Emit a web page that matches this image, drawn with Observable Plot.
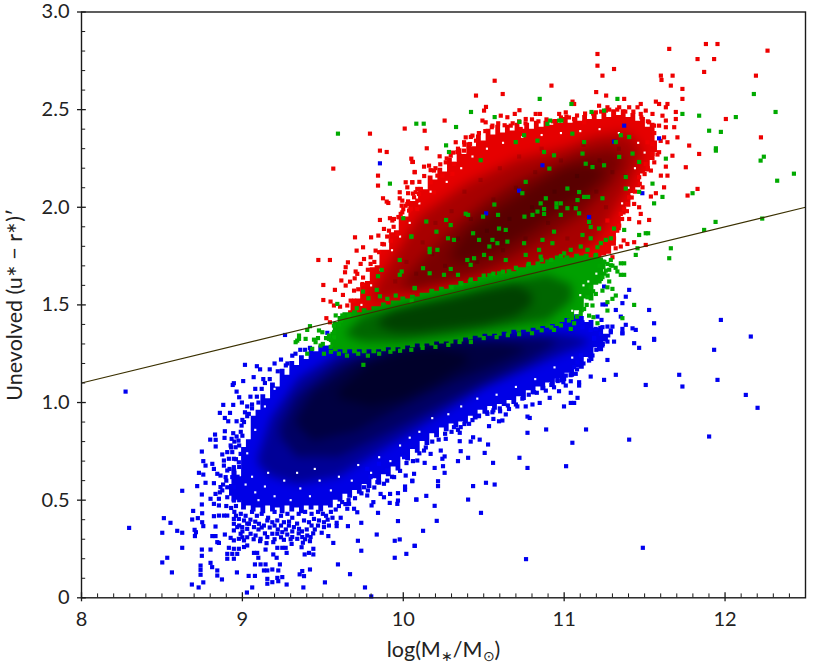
<!DOCTYPE html>
<html><head><meta charset="utf-8">
<script src="https://cdn.jsdelivr.net/npm/d3@7"></script>
<script src="https://cdn.jsdelivr.net/npm/@observablehq/plot@0.6"></script>
<style>html,body{margin:0;background:#fff}svg{display:block}</style>
</head><body><div id="chart"></div>
<script>
const xMajor=[8,9,10,11,12];
const yMajor=[0,0.5,1,1.5,2,2.5,3];
const xMinor=d3.range(80,126).map(d=>d/10).filter(d=>!xMajor.includes(d));
const yMinor=d3.range(0,31).map(d=>d/10).filter(d=>!yMajor.includes(d));
const divider=[[8,1.1],[12.5,2.0]];

// dense mass of each cloud, read column by column: [x, upper edge, lower edge]
const blueBand=[[8.92,.58,.52],[8.95,.66,.49],[8.98,.62,.50],[9.01,.77,.45],[9.04,.81,.47],[9.07,.93,.44],[9.10,.96,.46],[9.13,1.04,.43],[9.16,1.02,.47],[9.19,1.10,.44],[9.22,1.08,.46],[9.25,1.17,.43],[9.28,1.14,.47],[9.31,1.21,.44],[9.34,1.19,.46],[9.37,1.24,.43],[9.40,1.22,.47],[9.43,1.27,.45],[9.46,1.26,.47],[9.49,1.29,.44],[9.52,1.29,.47],[9.55,1.29,.46],[9.58,1.29,.50],[9.61,1.29,.49],[9.64,1.29,.53],[9.67,1.29,.51],[9.70,1.29,.55],[9.73,1.29,.53],[9.76,1.29,.58],[9.79,1.29,.56],[9.82,1.29,.61],[9.85,1.29,.59],[9.88,1.3,.63],[9.91,1.3,.62],[9.94,1.3,.67],[9.97,1.3,.65],[10.0,1.3,.72],[10.03,1.3,.70],[10.06,1.31,.76],[10.09,1.31,.74],[10.12,1.31,.80],[10.15,1.31,.78],[10.18,1.32,.84],[10.21,1.32,.82],[10.24,1.32,.87],[10.27,1.33,.85],[10.30,1.33,.89],[10.33,1.33,.87],[10.36,1.34,.90],[10.39,1.34,.89],[10.42,1.35,.93],[10.45,1.35,.91],[10.48,1.36,.96],[10.51,1.36,.94],[10.54,1.36,.98],[10.57,1.37,.96],[10.60,1.37,.99],[10.63,1.37,.98],[10.66,1.38,1.01],[10.69,1.38,.99],[10.72,1.39,1.03],[10.75,1.39,1.01],[10.78,1.40,1.06],[10.81,1.40,1.04],[10.84,1.40,1.08],[10.87,1.41,1.06],[10.90,1.41,1.10],[10.93,1.42,1.08],[10.96,1.42,1.12],[10.99,1.43,1.10],[11.02,1.43,1.15],[11.05,1.44,1.13],[11.08,1.45,1.18],[11.11,1.44,1.17],[11.14,1.41,1.23],[11.17,1.42,1.21],[11.20,1.38,1.28],[11.23,1.39,1.26],[11.26,1.35,1.31],[11.29,1.35,1.33]];
const redBand=[[9.66,1.47,1.43],[9.69,1.52,1.43],[9.72,1.53,1.44],[9.75,1.61,1.44],[9.78,1.62,1.45],[9.81,1.69,1.46],[9.84,1.70,1.46],[9.87,1.78,1.47],[9.90,1.78,1.47],[9.93,1.87,1.48],[9.96,1.88,1.49],[9.99,1.95,1.49],[10.02,1.95,1.5],[10.05,2.03,1.51],[10.08,2.03,1.51],[10.11,2.10,1.52],[10.14,2.09,1.52],[10.17,2.16,1.53],[10.20,2.14,1.54],[10.23,2.2,1.54],[10.26,2.18,1.55],[10.29,2.25,1.55],[10.32,2.23,1.56],[10.35,2.30,1.57],[10.38,2.27,1.57],[10.41,2.33,1.58],[10.44,2.31,1.58],[10.47,2.37,1.59],[10.50,2.34,1.6],[10.53,2.4,1.6],[10.56,2.37,1.61],[10.59,2.42,1.61],[10.62,2.38,1.62],[10.65,2.42,1.63],[10.68,2.39,1.63],[10.71,2.43,1.64],[10.74,2.4,1.64],[10.77,2.43,1.65],[10.80,2.4,1.66],[10.83,2.44,1.66],[10.86,2.41,1.67],[10.89,2.44,1.67],[10.92,2.42,1.68],[10.95,2.45,1.69],[10.98,2.43,1.69],[11.01,2.46,1.7],[11.04,2.43,1.7],[11.07,2.46,1.71],[11.10,2.44,1.72],[11.13,2.47,1.72],[11.16,2.45,1.73],[11.19,2.48,1.73],[11.22,2.45,1.74],[11.25,2.49,1.75],[11.28,2.46,1.76],[11.31,2.5,1.8],[11.34,2.47,1.88],[11.37,2.5,1.96],[11.40,2.46,2.0],[11.43,2.48,2.07],[11.46,2.44,2.1],[11.49,2.46,2.17],[11.52,2.41,2.18],[11.55,2.43,2.24],[11.58,2.34,2.28]];
const greenBand=[[9.55,1.36,1.28],[9.58,1.41,1.26],[9.61,1.44,1.27],[9.64,1.46,1.25],[9.67,1.46,1.27],[9.70,1.47,1.25],[9.73,1.46,1.27],[9.76,1.48,1.25],[9.79,1.47,1.27],[9.82,1.49,1.25],[9.85,1.49,1.27],[9.88,1.51,1.26],[9.91,1.5,1.28],[9.94,1.52,1.26],[9.97,1.52,1.28],[10.0,1.54,1.27],[10.03,1.53,1.29],[10.06,1.55,1.28],[10.09,1.54,1.3],[10.12,1.56,1.28],[10.15,1.56,1.3],[10.18,1.58,1.29],[10.21,1.57,1.31],[10.24,1.59,1.3],[10.27,1.58,1.31],[10.30,1.6,1.3],[10.33,1.6,1.32],[10.36,1.62,1.31],[10.39,1.61,1.33],[10.42,1.63,1.32],[10.45,1.62,1.34],[10.48,1.64,1.33],[10.51,1.64,1.35],[10.54,1.66,1.34],[10.57,1.65,1.35],[10.60,1.67,1.34],[10.63,1.66,1.36],[10.66,1.68,1.35],[10.69,1.67,1.37],[10.72,1.69,1.36],[10.75,1.69,1.37],[10.78,1.71,1.36],[10.81,1.70,1.38],[10.84,1.72,1.37],[10.87,1.71,1.39],[10.90,1.73,1.38],[10.93,1.73,1.4],[10.96,1.75,1.39],[10.99,1.74,1.41],[11.02,1.75,1.43],[11.05,1.74,1.42],[11.08,1.76,1.47],[11.11,1.75,1.46],[11.14,1.76,1.53],[11.17,1.74,1.52],[11.20,1.76,1.6],[11.23,1.74,1.62],[11.26,1.73,1.68]];

// darker centres of the clouds: [x, upper, lower]
const blueCore=[
 [[9.1,.72,.68],[9.18,.92,.62],[9.35,1.12,.58],[9.6,1.25,.62],[10,1.3,.82],[10.5,1.35,1.07],[11,1.35,1.25],[11.15,1.32,1.3]],
 [[9.24,.88,.82],[9.34,1.03,.72],[9.6,1.2,.72],[9.9,1.28,.84],[10.2,1.32,.97],[10.5,1.33,1.1],[10.8,1.33,1.22],[10.95,1.32,1.3]],
 [[9.34,.92,.88],[9.44,1.05,.8],[9.7,1.2,.85],[10,1.27,.98],[10.3,1.3,1.1],[10.6,1.3,1.2],[10.75,1.28,1.26]],
 [[9.6,1.06,1.02],[9.8,1.2,.98],[10,1.26,1.02],[10.2,1.28,1.1],[10.4,1.24,1.2]]
];
const redCore=[
 [[9.8,1.52,1.5],[9.85,1.62,1.52],[10.1,1.95,1.56],[10.4,2.12,1.61],[10.7,2.24,1.67],[11,2.3,1.73],[11.2,2.36,1.82],[11.4,2.38,2.1],[11.48,2.3,2.26]],
 [[10.0,1.62,1.58],[10.1,1.72,1.58],[10.3,1.88,1.62],[10.5,2.02,1.67],[10.7,2.13,1.75],[10.9,2.2,1.85],[11.1,2.27,1.95],[11.3,2.3,2.12],[11.37,2.26,2.22]],
 [[10.3,1.76,1.72],[10.4,1.88,1.72],[10.6,2.0,1.78],[10.8,2.1,1.88],[11,2.2,2.0],[11.15,2.22,2.08],[11.25,2.2,2.16]]
];
const greenCore=[
 [[9.65,1.36,1.34],[9.75,1.44,1.31],[10,1.49,1.31],[10.3,1.55,1.34],[10.6,1.61,1.38],[10.9,1.65,1.42],[11.05,1.6,1.52]],
 [[9.85,1.42,1.39],[9.95,1.47,1.36],[10.1,1.5,1.36],[10.3,1.53,1.38],[10.5,1.57,1.4],[10.7,1.6,1.44],[10.8,1.56,1.5]]
];

const bluePts=[[8.274,1.056],[8.296,.358],[8.512,.408],[8.553,.384],[8.502,.333],[8.595,.343],[8.626,.333],[8.626,.256],[8.533,.205],[8.502,.181],[8.562,.13],[8.626,.548],[8.688,.401],[8.694,.445],[8.703,.348],[8.711,.336],[8.705,.316],[8.723,.408],[8.75,.433],[8.75,.387],[8.757,.367],[8.748,.478],[8.748,.529],[8.719,.572],[8.771,.589],[8.73,.64],[8.757,.631],[8.771,.677],[8.757,.70],[8.748,.749],[8.748,.247],[8.748,.215],[8.802,.247],[8.74,.165],[8.74,.143],[8.74,.118],[8.802,.179],[8.812,.157],[8.844,.14],[8.844,.114],[8.873,.094],[8.686,.068],[8.728,.053],[8.757,.079],[8.966,.13],[9.039,.112],[9.078,.112],[9.061,.053],[9.028,.027],[9.379,.053],[9.513,.079],[9.594,.171],[9.669,.121],[9.762,.053],[9.801,.007],[9.739,.241],[9.718,.292],[9.835,.324],[9.739,.384],[9.656,.367],[9.967,.393],[9.947,.292],[9.978,.299],[9.947,.205],[10.019,.225],[10.071,.266],[9.843,.435],[10.081,.503],
[9.016,1.193],[9.09,1.186],[9.005,1.11],[8.947,1.099],[8.94,1.09],[8.964,1.056],[8.98,1.027],[8.881,.988],[8.943,.988],[8.997,1.0],[8.86,.947],[8.923,.947],[8.891,.921],[8.912,.904],[8.964,.904],[9.0,.911],[9.016,.95],[9.04,.942],[8.995,.882],[8.891,.853],[8.943,.843],[8.964,.826],[8.83,.836],[8.80,.81],[8.834,.809],[8.889,.819],[8.933,.814],[8.976,.805],[8.834,.775],[8.927,.78],[8.958,.771],[8.906,.746],[8.875,.734],[8.937,.746],[8.989,.737],[8.885,.703],[8.916,.712],[8.947,.712],[8.978,.694],[8.813,.686],[8.823,.66],[8.844,.635],[8.885,.677],[8.864,.626],[8.906,.652],[8.947,.669],[8.896,.618],[8.937,.618],[8.823,.587],[8.864,.567],[8.833,.532],[8.802,.507],[8.854,.507],[8.823,.481],[8.854,.473],[8.875,.55],[8.906,.566],[8.947,.566],[8.906,.515],[8.947,.498],[8.854,.421],[8.885,.421],[8.906,.421],
[9.07,1.13],[9.11,1.17],[9.13,1.12],[9.17,1.17],[9.2,1.2],[9.24,1.22],[9.27,1.19],[9.31,1.24],[9.36,1.27],[9.05,1.03],[9.08,1.07],[9.1,1.0],[9.03,.98],[9.06,.97],
[8.947,.404],[8.978,.404],[9.01,.396],[9.041,.379],[8.947,.379],[8.968,.362],[8.999,.362],[9.03,.353],[9.072,.362],[9.103,.379],[9.134,.37],[9.155,.396],[9.186,.387],[9.217,.396],[9.258,.387],[9.289,.37],[9.32,.362],[9.352,.353],[9.383,.396],[9.414,.387],[9.445,.404],[9.476,.396],[9.507,.387],[9.538,.37],[9.493,.333],[9.534,.316],[9.565,.281],[9.58,.452],[9.611,.41],[9.586,.384],[9.586,.367],[9.507,.362],
[8.95,.44],[8.99,.43],[9.02,.42],[9.06,.44],[9.09,.42],[9.12,.43],[9.16,.41],[9.2,.44],[9.24,.42],[9.28,.43],[9.31,.41],[9.35,.43],[9.39,.44],[9.43,.43],[9.47,.44],[9.52,.42],[9.55,.44],[9.6,.47],[9.64,.48],
[8.891,.324],[8.927,.307],[8.947,.294],[8.978,.302],[9.01,.294],[9.051,.328],[9.082,.319],[9.113,.302],[9.155,.311],[9.186,.328],[9.217,.328],[9.248,.336],[9.279,.324],[9.31,.311],[9.341,.302],[9.372,.311],[9.403,.319],[9.424,.311],[8.947,.345],[8.989,.328],[8.813,.316],[8.833,.316],[8.844,.285],[8.833,.365],[8.823,.418],[8.854,.281],[9.306,.276],[9.368,.259],[9.258,.297],[9.192,.285],
[8.916,.256],[8.947,.251],[8.978,.251],[9.01,.26],[9.03,.268],[8.906,.225],[8.937,.225],[8.968,.225],[8.906,.2],[8.947,.2],[9.072,.23],[9.092,.23],[9.099,.205],[9.144,.247],[9.192,.222],[9.217,.256],[9.248,.256],[9.269,.256],[9.213,.205],[9.275,.23],[9.387,.222],[9.414,.23],[9.441,.251],[9.441,.222],[9.376,.282],
[9.078,.171],[9.113,.171],[9.144,.171],[9.134,.14],[9.155,.14],[9.186,.145],[9.233,.171],[9.223,.14],[9.155,.097],[9.155,.072],[9.186,.08],[9.217,.102],[9.248,.106],[9.223,.085],[9.275,.068],[9.356,.12],[9.372,.137],[9.383,.111],[9.42,.145],
[9.663,.481],[9.694,.456],[9.714,.438],[9.652,.456],[9.776,.524],[9.814,.49],[9.803,.473],[9.859,.532],[9.88,.515],[9.918,.532],[9.916,.486],[9.963,.481],[9.967,.536],[9.967,.498],[10.011,.57],[10.011,.553],[10.056,.6],[10.015,.626],[9.943,.618],[9.88,.584],[9.839,.592],[9.797,.618],[9.756,.566],[9.901,.652],[9.849,.686],[9.776,.66],[9.963,.686],[10.005,.72],
[12.16,1.338],[11.932,1.27],[11.559,1.321],[11.466,1.28],[11.435,1.304],[11.362,1.355],[11.715,1.142],[11.953,1.116],[11.735,1.082],[11.507,1.09],[11.321,1.142],[11.248,1.116],[11.165,1.133],[11.269,1.218],[12.129,1.039],[12.202,.973],[11.901,.826],[11.404,.81],[11.136,.862],[11.051,.794],[10.888,.862],[10.772,.845],[10.772,.928],[10.786,.921],[10.999,.98],[11.041,.998],[11.062,.998],[11.083,1.024],[11.041,1.05],[11.093,1.087],[11.093,1.104],[11.01,1.087],[10.995,1.104],[11.041,1.109],[10.958,1.116],[10.968,1.058],[10.91,1.024],[10.848,.998],[10.803,.99],[10.761,.98],[10.709,.98],[10.657,.967],[10.637,.939],[10.616,.908],[10.595,.904],[10.56,.916],[10.554,.95],[10.602,.955],[10.533,.879],[10.475,.81],[10.527,.785],[10.434,.822],[10.419,.80],[10.506,.742],[10.558,.691],[10.403,.717],[10.34,.70],[10.357,.751],[10.722,.717],[10.772,.665],[11.012,.674],[10.568,.58],[10.514,.589],[10.434,.572],[10.403,.503],[10.483,.435],[10.257,.64],[10.247,.674],[10.195,.665],[10.257,.724],[10.133,.691],[10.216,.597],[10.216,.572],[10.143,.522],[10.081,.503],[10.195,.471],[10.208,.394],[10.123,.343],[10.071,.266],[10.763,.198],[11.489,.256],[10.351,.802],[10.351,.845],[10.264,.814],[10.067,.635],[10.056,.597],[10.129,.754],[10.17,.737],[10.233,.754],[10.243,.712],[10.087,.703],[10.315,.874],[10.357,.874],[10.409,.891],[10.471,.933],[10.523,.942],
[11.155,1.215],[11.176,1.241],[11.217,1.275],[11.238,1.292],[11.269,1.312],[11.31,1.312],[11.186,1.326],[11.228,1.352],[11.29,1.36],[11.083,1.206],[11.104,1.241],[11.062,1.181],[11.072,1.147],[11.01,1.138],[10.937,1.078],[10.886,1.061],[10.813,1.053],
[11.404,1.577],[11.383,1.542],[11.362,1.509],[11.321,1.474],[11.528,1.474],[11.352,1.44],[11.232,1.423],[11.207,1.44],[11.559,1.406],[11.383,1.398],[11.974,1.423],[11.425,1.38],[11.445,1.372],[11.362,1.377],[11.362,1.355],[11.238,1.502],[11.259,1.502],[11.248,1.594],[11.3,1.389],[11.269,1.389],[11.238,1.386],[11.196,1.377],[11.165,1.372],[11.114,1.411],[11.114,1.386],[11.29,1.369],[11.186,1.331],[11.559,1.326],
[9.265,1.346],[9.528,1.357]];
const blueEdge=[[9.62,.49],[9.66,.5],[9.7,.51],[9.74,.535],[9.78,.55],[9.82,.565],[9.85,.59],[9.9,.6],[9.93,.62],[9.98,.65],[10.02,.69],[10.06,.7],[10.1,.74],[10.14,.77],[10.18,.8],[10.22,.81],[10.26,.84],[10.3,.85],[10.34,.86],[10.38,.89],[10.43,.91],[10.47,.93],[10.52,.95],[10.56,.96],[10.6,.97],[10.65,.985],[10.7,.99],[10.74,1.02],[10.78,1.04],[10.83,1.05],[10.87,1.075],[10.92,1.09],[10.96,1.11],[11.0,1.12],[11.04,1.14],[11.08,1.17],[11.12,1.2],[11.16,1.24],[11.2,1.27],[11.24,1.3],
[8.96,.42],[8.98,.37],[9.0,.34],[9.03,.38],[9.05,.4],[9.08,.39],[9.1,.35],[9.12,.36],[9.14,.33],[9.17,.36],[9.2,.37],[9.22,.35],[9.24,.37],[9.27,.35],[9.29,.39],[9.31,.34],[9.34,.38],[9.37,.34],[9.4,.35],[9.43,.37],[9.45,.35],[9.47,.37],[9.5,.43],[9.53,.4],[9.56,.41],[9.0,.31],[9.03,.31],[9.07,.3],[9.11,.29],[9.15,.28],[9.2,.3],[9.24,.31],[9.3,.3],[9.35,.33],[9.39,.3],[9.42,.29],[9.44,.33],
[8.92,.66],[8.95,.64],[8.97,.62],[8.93,.56],[8.96,.52],[8.98,.5],[8.9,.6],[8.88,.58],[8.86,.54],[8.9,.47],[8.93,.46],[8.96,.47],[8.98,.67],[8.96,.71],[8.93,.77],[8.95,.8],[8.98,.78],[9.0,.83],[8.99,.85],[9.01,.9],[9.03,.93],[9.06,.99],[9.09,1.03],[9.12,1.07],[9.14,1.1],[9.17,1.12],[9.22,1.16],[9.28,1.2],[9.33,1.25],[9.39,1.27],[9.42,1.28]];
const blueGaps=[[9.1,.5],[9.14,.57],[9.06,.62],[9.2,.52],[9.26,.6],[9.3,.5],[9.36,.56],[9.42,.52],[9.48,.6],[9.55,.55],[9.6,.62],[9.68,.6],[9.72,.68],[9.8,.64],[9.85,.72],[9.92,.7],[9.98,.78],[10.04,.82],[10.1,.85],[10.18,.92],[10.28,.94],[10.36,.98],[10.46,1.02],[10.58,1.04],[10.7,1.08],[10.82,1.12],[10.94,1.18],[11.05,1.23],[9.03,.74],[9.08,.86],[9.14,.98],[9.2,1.07],[9.16,.64],[9.08,.54],[9.34,.64],[9.02,.58],[9.45,.66]];
const redPts=[[11.881,2.836],[11.953,2.836],[11.653,2.811],[12.264,2.802],[11.829,2.759],[11.932,2.759],[11.207,2.785],[11.207,2.725],[11.31,2.708],[11.87,2.693],[11.238,2.674],[11.601,2.674],[11.674,2.674],[12.192,2.674],[11.605,2.652],[10.568,2.648],[11.663,2.623],[10.921,2.623],[11.735,2.606],[11.199,2.59],[10.618,2.58],[10.452,2.572],[11.261,2.572],[11.735,2.555],[11.373,2.555],[11.052,2.541],[11.062,2.529],[11.57,2.541],[11.59,2.529],[11.642,2.529],[11.632,2.512],
[10.492,2.444],[10.512,2.435],[10.554,2.418],[10.606,2.469],[10.647,2.461],[10.668,2.418],[10.73,2.401],[10.761,2.452],[10.823,2.478],[10.85,2.478],[10.969,2.478],[11.01,2.486],[11.014,2.464],[11.062,2.452],[11.124,2.435],[11.197,2.486],[11.259,2.495],[11.31,2.478],[11.404,2.512],[11.476,2.478],[11.549,2.478],[11.611,2.469],[11.694,2.452],[11.632,2.444],[11.632,2.41],[11.684,2.41],[11.59,2.418],[11.528,2.435],[11.559,2.418],[11.621,2.358],[11.642,2.333],[11.59,2.282],[11.549,2.273],[11.632,2.208],[11.539,2.188],[11.507,2.222],[11.518,2.333],[11.549,2.324],[11.466,2.154],[11.487,2.102],[11.539,2.055],[11.404,2.051],[11.393,2.017],[11.435,2.017],[11.466,2.0],[11.373,1.991],[11.352,1.966],[11.404,1.94],[11.342,1.906],[11.269,1.932],[11.3,1.881],
[11.694,2.488],[12.005,2.452],[10.257,2.444],[10.133,2.392],[10.146,2.302],[10.326,2.333],[12.223,2.358],[11.704,2.358],[11.777,2.316],[11.839,2.273],[11.673,2.264],[11.756,2.205],[11.642,2.162],[11.601,2.162],[11.621,2.102],[11.829,2.094],[11.767,2.06],[11.57,2.072],[11.528,1.935],[11.476,1.966],[11.466,1.923],[11.435,1.821],[11.507,1.807],[11.393,1.812],[11.352,1.799],[11.217,2.52],[11.269,2.512],[11.342,2.512],[11.476,2.529],[11.456,2.512],[11.507,2.495],[10.514,2.514],[10.502,2.495],[10.722,2.497],[10.693,2.478],[11.217,1.688],[11.3,1.744],
[10.388,2.358],[10.43,2.367],[10.452,2.341],[10.378,2.333],[10.415,2.324],[10.336,2.282],[10.378,2.29],[10.295,2.264],[10.226,2.261],[10.264,2.23],[10.16,2.213],[10.129,2.208],[10.191,2.188],[10.071,2.181],[10.056,2.232],[10.315,2.222],[10.305,2.171],[10.212,2.162],[10.243,2.162],[10.17,2.128],[10.087,2.094],[10.056,2.128],[10.191,2.077],
[9.793,2.377],[10.009,2.403],[9.855,2.29],[9.897,2.283],[9.565,2.198],[9.843,2.162],[9.843,2.111],[10.05,2.249],[10.06,2.232],[10.071,2.179],[10.015,2.128],[10.056,2.128],[10.025,2.102],[9.978,2.077],[10.03,2.072],[10.077,2.077],[10.108,2.094],[9.874,2.046],[9.897,2.029],[9.907,2.022],[9.978,2.046],[9.994,2.034],[10.015,2.008],[10.046,1.991],[9.99,2.008],[9.994,1.974],[10.036,1.983],[10.087,2.034],[10.087,1.991],[9.855,1.935],[9.917,1.944],[9.932,1.932],[9.70,1.846],[9.80,1.846],[9.75,1.795],[9.71,1.778],[9.845,1.855],[9.472,1.73],[9.544,1.73],[9.656,1.718],[9.642,1.693],[9.638,1.667],[9.704,1.671],[9.698,1.636],[9.615,1.625],[9.669,1.619],[9.503,1.602],[9.642,1.599],[9.575,1.577],[9.625,1.551],[9.503,1.525],[9.548,1.517],[9.569,1.497],[9.607,1.491],[9.522,1.432],[9.544,1.411],
[9.756,1.735],[9.797,1.744],[9.828,1.778],[9.87,1.812],[9.922,1.829],[9.88,1.889],[9.911,1.88],[9.797,1.71],[9.735,1.71],[9.714,1.659],[9.746,1.607],[9.694,1.573],[9.673,1.522],[9.652,1.497],[9.694,1.522],[9.942,1.94],[9.973,1.949],[9.984,1.966],[10.025,2.017],[10.067,2.051],[10.098,2.068],[9.963,1.863],
[9.72,1.58],[9.75,1.64],[9.78,1.68],[9.82,1.72],[9.85,1.77],[9.88,1.81],[9.9,1.85],[9.94,1.9],[9.97,1.95],[10.0,1.99],[10.03,2.03],[10.06,2.07],[10.1,2.13],[10.13,2.16],[10.17,2.19],[10.2,2.2],[10.23,2.22],[10.27,2.25],[10.31,2.28],[10.34,2.3],[10.38,2.32],[10.42,2.36],[10.47,2.38],[10.51,2.39],[10.55,2.41],[10.59,2.43],[10.63,2.42],[10.68,2.43],[10.72,2.44],[10.76,2.43],[10.8,2.45],[10.84,2.44],[10.89,2.45],[10.93,2.44],[10.98,2.46],[11.03,2.46],[11.08,2.47],[11.13,2.48],[11.18,2.48],[11.23,2.49],[11.28,2.5],[11.33,2.5],[11.38,2.49],[11.43,2.49],[11.48,2.46],[11.52,2.44],[11.56,2.38],[11.6,2.34],[11.58,2.27],[11.56,2.23],[11.52,2.2],[11.5,2.17],[11.47,2.12],[11.44,2.08],[11.42,2.05],[11.39,1.98],[11.36,1.94],[11.33,1.88],[11.31,1.84],[11.32,1.79],[11.37,1.83]];
const redGaps=[[9.74,1.5],[9.8,1.6],[9.86,1.68],[9.93,1.78],[9.98,1.85],[10.04,1.92],[10.1,2.02],[10.17,2.08],[10.27,2.13],[10.36,2.2],[10.43,2.26],[10.52,2.3],[10.62,2.33],[10.74,2.36],[10.86,2.37],[10.98,2.38],[11.1,2.39],[11.22,2.4],[11.34,2.38],[11.46,2.33],[11.5,2.28],[11.44,2.2],[11.4,2.1],[11.36,2.02]];
const redGrain=[[9.95,1.62],[10.02,1.72],[10.08,1.66],[10.12,1.82],[10.18,1.76],[10.2,1.92],[10.26,1.7],[10.3,1.98],[10.34,1.84],[10.38,2.08],[10.42,1.94],[10.46,1.72],[10.48,2.14],[10.52,1.88],[10.56,2.04],[10.6,2.2],[10.62,1.78],[10.66,1.94],[10.7,2.1],[10.72,2.26],[10.76,1.84],[10.8,2.0],[10.82,2.18],[10.86,2.3],[10.9,1.92],[10.94,2.08],[10.98,2.24],[11.02,1.84],[11.06,2.0],[11.08,2.16],[11.12,2.32],[11.16,1.92],[11.2,2.08],[11.22,2.24],[11.26,2.0],[11.3,2.18],[11.34,2.3],[11.38,2.16]];
const greenPts=[[12.179,2.58],[12.314,2.488],[11.735,2.478],[11.839,2.469],[12.067,2.462],[11.901,2.392],[11.974,2.386],[11.943,2.302],[11.943,2.29],[12.241,2.259],[12.221,2.239],[12.428,2.172],[12.324,2.136],[11.549,2.121],[11.611,2.053],[11.559,2.02],[11.798,2.072],[11.466,2.079],[11.941,1.925],[11.87,1.884],[12.231,1.942],[11.663,1.79],[11.653,1.739],[11.445,1.756],[11.456,1.79],[11.507,1.867],[11.522,1.867],[11.466,1.858],[11.373,1.884],[11.31,1.891],[11.29,1.841],[11.259,1.833],[11.228,1.816],[11.207,1.795],[11.217,1.891],[11.165,1.899],[11.155,1.925],[11.114,1.858],[11.165,1.841],[11.103,1.799],[11.145,1.782],[11.197,1.756],[11.041,1.782],[11.0,1.764],[10.844,1.782],[10.854,1.747],[10.865,1.833],[10.927,1.816],[10.937,1.875],[10.761,1.756],[10.751,1.816],[10.647,1.824],[10.637,1.73],[10.585,1.816],[10.554,1.833],[10.535,1.799],[10.502,1.756],[10.544,1.739],[10.471,1.833],[10.44,1.739],[10.398,1.73],[10.419,1.705],[10.315,1.833],[10.278,1.841],[10.434,1.867],[10.595,1.891],[10.637,1.884],[10.206,1.875],[10.295,1.909],[10.266,1.935],[10.143,1.927],[10.05,1.85],[10.388,1.967],[10.403,1.961],[10.496,1.952],[10.589,1.961],[10.753,1.952],[10.803,1.961],[10.834,1.978],[10.875,1.991],[10.875,1.966],[10.854,2.02],[10.886,2.046],[10.952,2.02],[10.979,2.02],[10.952,2.0],[11.02,1.995],[11.072,1.995],[11.093,1.969],[10.979,1.961],[11.083,2.037],[11.124,2.053],[11.149,2.053],[11.093,2.078],[11.02,2.096],[11.238,2.046],[11.383,2.096],[11.383,2.155],[11.248,2.215],[11.176,2.206],[11.134,2.223],[11.466,2.232],[11.342,2.258],[11.425,2.275],[11.632,2.249],[11.114,2.275],[10.937,2.266],[10.875,2.283],[10.908,2.198],[10.761,2.13],[10.74,2.072],[10.566,2.014],[10.481,2.241],[10.284,2.283],[10.266,2.317],[10.699,2.334],[10.834,2.341],[10.751,2.369],[11.051,2.377],[11.124,2.334],[11.321,2.334],[11.352,2.369],[11.404,2.36],[10.896,2.427],[10.913,2.444],[10.969,2.444],[10.983,2.444],[10.722,2.437],[10.568,2.462],[10.421,2.488],[10.328,2.411],[10.081,2.428],[10.848,2.555],[11.045,2.529],[11.17,2.488],[11.248,2.495],[11.331,2.555],[10.164,1.77],[10.164,1.787],[10.212,1.782],[10.123,1.688],[10.164,1.662],[10.071,1.587],[10.253,1.654],[10.295,1.684],[10.34,1.654],
[9.594,2.377],[10.127,2.428],[9.917,2.121],[10.0,1.944],[10.05,1.85],[9.978,1.73],[9.866,1.679],[9.99,1.671],[9.978,1.654],[9.843,1.647],[9.835,1.577],[10.071,1.585],[9.75,1.568],[9.855,1.544],[9.783,1.534],[9.901,1.531],[9.953,1.548],[10.052,1.522],[9.59,1.505],[9.711,1.483],[9.42,1.391],[9.352,1.343],[9.403,1.372],[9.476,1.369],[9.497,1.36],[9.58,1.446],[9.621,1.446],[9.663,1.446],[9.569,1.394],[9.611,1.42],[9.538,1.343],[9.569,1.334],[9.393,1.326],[9.341,1.317],[9.445,1.322],[9.331,1.309],[9.352,1.326],[9.455,1.309],[9.507,1.25],[9.403,1.25],[9.752,1.193],[9.434,1.275],[9.486,1.292],[9.538,1.326],[9.549,1.285],
[11.373,1.713],[11.352,1.713],[11.269,1.71],[11.29,1.703],[11.373,1.654],[11.352,1.654],[11.331,1.671],[11.28,1.62],[11.269,1.59],[11.3,1.582],[11.321,1.548],[11.3,1.531],[11.269,1.514],[11.435,1.5],[11.269,1.471],[11.155,1.445],[11.182,1.437],[11.362,1.432],[11.207,1.406],[11.062,1.406],[11.041,1.377],[10.937,1.372],[11.176,1.497],[11.145,1.539],[11.197,1.556],[11.238,1.573],[11.165,1.59],[11.238,1.642],[11.259,1.676],[11.3,1.701],[11.124,1.479],[11.103,1.454],
[10.3,1.59],[10.36,1.61],[10.42,1.63],[10.5,1.65],[10.56,1.66],[10.62,1.67],[10.7,1.69],[10.78,1.71],[10.86,1.73],[10.92,1.73],[10.98,1.75]];
const greenEdge=[[9.55,1.26],[9.6,1.25],[9.65,1.24],[9.72,1.25],[9.78,1.24],[9.85,1.25],[9.92,1.26],[9.98,1.265],[10.05,1.27],[10.12,1.28],[10.2,1.285],[10.28,1.295],[10.35,1.31],[10.42,1.31],[10.5,1.33],[10.58,1.335],[10.65,1.345],[10.72,1.35],[10.8,1.355],[10.86,1.37],[10.92,1.385],[10.98,1.395],[11.03,1.42],[11.08,1.44],[11.14,1.5],[11.18,1.57],[11.22,1.62],[11.25,1.66],[9.55,1.32],[9.52,1.33],[9.5,1.3],[9.47,1.33],[9.6,1.4],[9.57,1.36],[9.62,1.43],[11.22,1.7],[11.25,1.72],[11.28,1.68],[11.27,1.65],[11.32,1.69],[11.29,1.73]];
const greenGaps=[[11.15,1.62],[11.2,1.66],[11.1,1.55],[11.05,1.47],[11.12,1.6]];
const blueFlecks=[[11.373,2.418],[11.59,2.353],[11.31,2.336],[10.865,2.215],[10.72,2.085],[10.515,1.969],[11.155,1.95],[11.486,2.072],[9.855,2.225]];

const band=(rows,fill,opts={})=>Plot.areaY(rows,{x:d=>d[0],y1:d=>d[2],y2:d=>d[1],fill,curve:"step",...opts});
const core=(layers,op,blur)=>layers.map(l=>band(l,"#000",{curve:"linear",fillOpacity:op,imageFilter:`blur(${blur}px)`}));
const pts=(data,fill,r=2.35,fillOpacity=1)=>Plot.dot(data,{x:d=>d[0],y:d=>d[1],symbol:"square",r,fill,fillOpacity,stroke:"none"});
const ink="#1a1a1a";

const labelX="log(M*/M_sun)", labelY="Unevolved (u*-r*)'";
const plot=Plot.plot({
  width:830,height:664,marginLeft:81,marginRight:25,marginTop:11.5,marginBottom:66.7,
  style:{fontFamily:"Lato",fontSize:"20px",color:"#222",background:"#fff"},
  x:{domain:[8,12.5],label:null},
  y:{domain:[0,3],label:null},
  marks:[
    band(blueBand,"#0000e6"),
    ...core(blueCore,0.34,5),
    pts(blueGaps,"#fff",1.2),
    pts(bluePts,"#0000f0"),
    pts(blueEdge,"#0000e6"),
    band(redBand,"#e60000"),
    ...core(redCore,0.27,6),
    pts(redGrain,"#000",2.35,0.12),
    pts(redGaps,"#fff",1.2),
    pts(redPts,"#ee0000"),
    pts(blueFlecks,"#0000f0"),
    band(greenBand,"#00a000"),
    ...core(greenCore,0.36,5),
    pts(greenGaps,"#fff",1.2),
    pts(greenPts,"#00aa00"),
    pts(greenEdge,"#00a400"),
    Plot.line(divider,{x:d=>d[0],y:d=>d[1],stroke:"#3a3000",strokeWidth:1.2}),
    Plot.frame({stroke:ink,strokeWidth:1.4}),
    Plot.ruleX(xMajor,{y1:0,y2:0.026,stroke:ink,strokeWidth:1.3}),
    Plot.ruleX(xMinor,{y1:0,y2:0.02,stroke:ink,strokeWidth:1}),
    Plot.ruleY(yMajor,{x1:8,x2:8.03,stroke:ink,strokeWidth:1.3}),
    Plot.ruleY(yMinor,{x1:8,x2:8.026,stroke:ink,strokeWidth:1}),
    Plot.axisX({ticks:xMajor,tickSize:4,tickPadding:10,label:null,stroke:ink,strokeWidth:1.3,fontSize:20,tickFormat:d3.format("d")}),
    Plot.axisY({ticks:yMajor,tickSize:4,tickPadding:8,label:null,stroke:ink,strokeWidth:1.3,fontSize:20,
      tickFormat:d=>d===0?"0":d3.format(".1f")(d)}),
    Plot.text([labelX],{frameAnchor:"bottom",dy:59,fontSize:21.5,fill:"#222"}),
    Plot.text([labelY],{frameAnchor:"left",dx:-66,rotate:-90,textAnchor:"middle",fontSize:21.5,fill:"#222"})
  ]
});
document.getElementById("chart").append(plot);
const rich=(label,parts)=>{
  d3.select(plot).selectAll("text").filter(function(){return this.textContent===label}).each(function(){
    const t=d3.select(this); t.text(null);
    let shift=0;
    parts.forEach(([s,b])=>{
      const ts=t.append("tspan").text(s);
      const dy=(b||0)-shift; shift=b||0;
      ts.attr("dy",dy);
      if(b) ts.attr("font-size",14);
    });
  });
};
rich(labelX,[["log(M"],["∗",4],["/M"],["⊙",4],[")"]]);
rich(labelY,[["Unevolved (u"],["∗",-6],[" − r"],["∗",-6],[")′"]]);
</script></body></html>
